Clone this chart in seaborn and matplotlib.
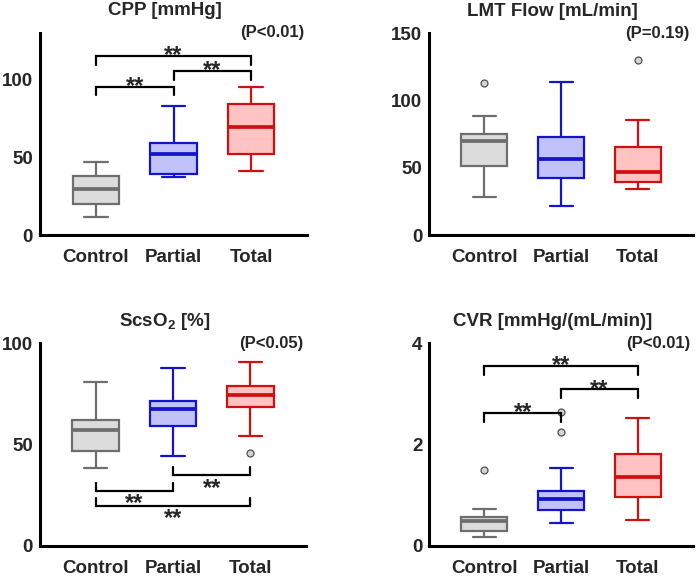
import numpy as np
import pandas as pd
import matplotlib
matplotlib.use("Agg")
import matplotlib.pyplot as plt
import seaborn as sns

# ---------------- data ----------------
categories = ["Control", "Partial", "Total"]

# five-number summaries: [lower whisker, Q1, median, Q3, upper whisker]
cpp_control = [11.4, 19.9, 29.3, 37.9, 46.9]
cpp_partial = [37.4, 39.2, 52.2, 58.9, 82.9]
cpp_total = [41.1, 52.0, 69.2, 83.9, 94.9]
cpp_outliers = {}

lmt_control = [28.5, 51.3, 69.7, 75.1, 88.2]
lmt_partial = [21.3, 42.6, 56.5, 72.6, 113.5]
lmt_total = [34.4, 39.6, 47.1, 65.7, 85.3]
lmt_outliers = {"Control": [113.2], "Total": [130.3]}

scs_control = [38.3, 47.0, 57.2, 62.2, 81.1]
scs_partial = [44.4, 59.2, 67.4, 71.7, 88.0]
scs_total = [54.3, 68.7, 74.3, 79.1, 90.9]
scs_outliers = {"Total": [45.7]}

cvr_control = [0.18, 0.30, 0.50, 0.57, 0.73]
cvr_partial = [0.45, 0.71, 0.92, 1.09, 1.53]
cvr_total = [0.51, 0.97, 1.36, 1.82, 2.53]
cvr_outliers = {"Control": [1.49], "Partial": [2.25, 2.64]}

titles = ["CPP [mmHg]", "LMT Flow [mL/min]", "ScsO$_\\mathregular{2}$ [%]", "CVR [mmHg/(mL/min)]"]
p_labels = ["(P<0.01)", "(P=0.19)", "(P<0.05)", "(P<0.01)"]
y_limits = [(0, 130), (0, 150), (0, 100), (0, 4)]
y_ticks = [[0, 50, 100], [0, 50, 100, 150], [0, 50, 100], [0, 2, 4]]

# brackets: (group a, group b, bar level, tick end level, label)
cpp_brackets = [("Control", "Partial", 94.9, 90.0, "**"),
                ("Partial", "Total", 105.3, 99.5, "**"),
                ("Control", "Total", 115.0, 109.0, "**")]
scs_brackets = [("Partial", "Total", 35.0, 39.1, "**"),
                ("Control", "Partial", 27.3, 31.2, "**"),
                ("Control", "Total", 19.9, 23.5, "**")]
cvr_brackets = [("Control", "Partial", 2.62, 2.45, "**"),
                ("Partial", "Total", 3.09, 2.92, "**"),
                ("Control", "Total", 3.55, 3.37, "**")]

face_colors = {"Control": "#dcdcdc", "Partial": "#c2c2fb", "Total": "#ffc3c3"}
edge_colors = {"Control": "#6e6e6e", "Partial": "#1414cc", "Total": "#d20f0f"}

panels = [
    dict(values=[cpp_control, cpp_partial, cpp_total], outliers=cpp_outliers, brackets=cpp_brackets),
    dict(values=[lmt_control, lmt_partial, lmt_total], outliers=lmt_outliers, brackets=[]),
    dict(values=[scs_control, scs_partial, scs_total], outliers=scs_outliers, brackets=scs_brackets),
    dict(values=[cvr_control, cvr_partial, cvr_total], outliers=cvr_outliers, brackets=cvr_brackets),
]

# ---------------- style ----------------
sns.set_style("white")
plt.rcParams["font.family"] = ["Liberation Sans", "DejaVu Sans"]
plt.rcParams["font.weight"] = "bold"
plt.rcParams["mathtext.default"] = "bf"

W, H = 697, 578
fig = plt.figure(figsize=(W / 100, H / 100), dpi=100)

# axes rectangles in pixels: left, top, right, bottom
rects = [(40, 32.6, 307, 235), (429.3, 33.3, 693, 235),
         (40, 343.3, 306, 546), (429.3, 343.3, 693, 546)]

for k, (panel, rect) in enumerate(zip(panels, rects)):
    l, t, r, b = rect
    ax = fig.add_axes([l / W, (H - b) / H, (r - l) / W, (b - t) / H])
    df = pd.DataFrame({
        "group": np.repeat(categories, [len(v) for v in panel["values"]]),
        "value": np.concatenate(panel["values"]),
    })
    for cat in categories:
        sub = df[df["group"] == cat]
        sns.boxplot(data=sub, x="group", y="value", order=categories, ax=ax,
                    color=face_colors[cat], linecolor=edge_colors[cat],
                    saturation=1, width=0.6, linewidth=1.6, fliersize=0,
                    medianprops={"linewidth": 2.7})
    out_groups, out_vals = [], []
    for cat, vals in panel["outliers"].items():
        out_groups += [cat] * len(vals)
        out_vals += vals
    if out_vals:
        odf = pd.DataFrame({"group": out_groups, "value": out_vals})
        sns.stripplot(data=odf, x="group", y="value", order=categories, ax=ax,
                      jitter=False, color="#d4d4d4", edgecolor="#505050",
                      linewidth=0.9, size=5, zorder=5)

    for a, bb, level, tick, lab in panel["brackets"]:
        x1, x2 = categories.index(a), categories.index(bb)
        ax.plot([x1, x1, x2, x2], [tick, level, level, tick], color="black",
                lw=1.6, solid_joinstyle="miter", zorder=6)
        below = tick > level
        ax.annotate(lab, xy=((x1 + x2) / 2, level),
                    xytext=(0, -14.2 if below else -4.5), textcoords="offset points",
                    ha="center", va="baseline", fontsize=17, fontweight="bold")

    ax.set_xlim(-0.72, 2.72)
    ax.set_ylim(*y_limits[k])
    ax.set_yticks(y_ticks[k])
    ax.set_xlabel("")
    ax.set_ylabel("")
    for s in ["top", "right"]:
        ax.spines[s].set_visible(False)
    for s in ["left", "bottom"]:
        ax.spines[s].set_linewidth(2.2)
        ax.spines[s].set_color("black")
    ax.tick_params(axis="y", direction="in", length=6, width=2.2, pad=5,
                   labelsize=13.5)
    ax.tick_params(axis="x", length=0, pad=10, labelsize=13.5)
    for lbl in ax.get_xticklabels() + ax.get_yticklabels():
        lbl.set_fontweight("bold")
    ax.text(0.468, 1 + 22 / (b - t), titles[k], transform=ax.transAxes,
            ha="center", va="center", fontsize=13.5, fontweight="bold")
    ax.text(1 - 3 / (r - l), 1.0, p_labels[k], transform=ax.transAxes,
            ha="right", va="center", fontsize=12, fontweight="bold")

fig.savefig("out.png", dpi=100)
